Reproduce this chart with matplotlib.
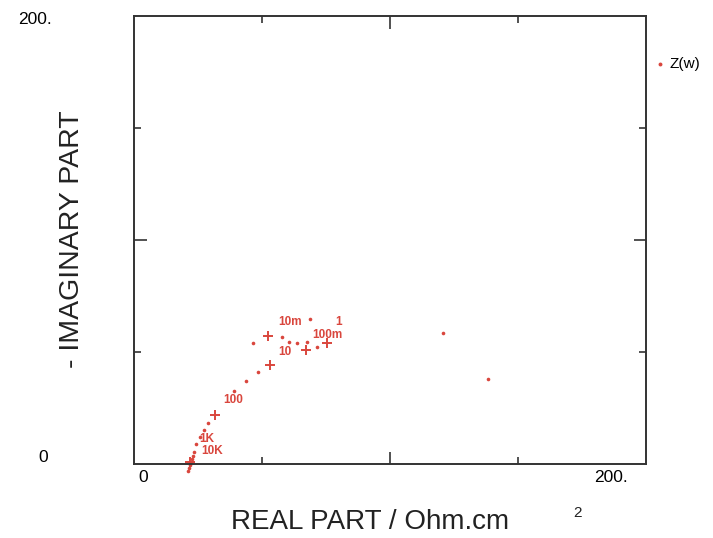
import matplotlib.pyplot as plt
from matplotlib.ticker import FixedLocator, NullFormatter

plt.rcParams['font.family'] = ['Liberation Sans', 'DejaVu Sans']

# ---- Data ----
# impedance points shown as small dots
dot_re = [23.4, 23.0, 22.7, 22.3, 21.9, 21.5, 21.1, 24.2, 25.8, 27.3, 28.9,
          39.1, 43.8, 48.4, 46.5, 57.8, 60.5, 63.7, 67.6, 68.8, 71.5, 120.7, 138.3]
dot_im = [5.4, 3.6, 2.2, 0.9, -0.4, -1.8, -3.1, 8.9, 12.1, 15.2, 18.3,
          32.6, 37.1, 41.1, 54.0, 56.7, 54.5, 54.0, 54.5, 64.7, 52.2, 58.5, 37.9]

# decade frequency points shown as "+"
dec_re = [21.9, 31.6, 53.1, 52.3, 67.2, 75.4]
dec_im = [0.9, 21.9, 44.2, 57.1, 50.9, 54.0]

# frequency labels
freq_labels = ["10K", "1K", "100", "10", "1", "100m", "10m"]
freq_re = [30.6, 28.5, 38.7, 59.0, 79.8, 75.4, 60.9]
freq_im = [5.6, 11.2, 28.6, 50.0, 63.2, 57.4, 63.4]

red = "#d9463d"

fig = plt.figure(figsize=(7.13, 5.38), dpi=100)
ax = fig.add_axes([0.1879, 0.1375, 0.7181, 0.8327])

ax.plot(dot_re, dot_im, linestyle="none", marker="o", markersize=2.6,
        color=red, markeredgewidth=0, clip_on=False)
ax.plot(dec_re, dec_im, linestyle="none", marker="+", markersize=7,
        color=red, markeredgewidth=1.4, clip_on=False)
for lab, x, y in zip(freq_labels, freq_re, freq_im):
    ax.text(x, y, lab, color=red, fontsize=8.5, ha="center", va="center",
            fontweight="bold")

ax.set_xlim(0, 200)
ax.set_ylim(0, 200)

# ticks: inward on all four sides, no numbers
ax.xaxis.set_major_locator(FixedLocator([100]))
ax.xaxis.set_minor_locator(FixedLocator([50, 150]))
ax.yaxis.set_major_locator(FixedLocator([100]))
ax.yaxis.set_minor_locator(FixedLocator([50, 150]))
ax.xaxis.set_major_formatter(NullFormatter())
ax.yaxis.set_major_formatter(NullFormatter())
ax.tick_params(which="both", direction="in", top=True, right=True,
               color="#333333", width=1.2)
ax.tick_params(which="major", length=9)
ax.tick_params(which="minor", length=5)
for s in ax.spines.values():
    s.set_linewidth(1.4)
    s.set_color("#333333")

# end labels
fig.text(143 / 713, 1 - 478 / 538, "0", fontsize=12.5, ha="center", va="center")
fig.text(628 / 713, 1 - 478 / 538, "200.", fontsize=12.5, ha="right", va="center")
fig.text(35 / 713, 1 - 20 / 538, "200.", fontsize=12.5, ha="center", va="center")
fig.text(43 / 713, 1 - 457 / 538, "0", fontsize=12.5, ha="center", va="center")

# axis titles
fig.text(370 / 713, 1 - 522 / 538, "REAL PART / Ohm.cm", fontsize=20,
         ha="center", va="center", color="#222222")
fig.text(577 / 713, 1 - 513 / 538, "2", fontsize=11, ha="center", va="center",
         color="#222222")
fig.text(72 / 713, 1 - 239 / 538, "- IMAGINARY PART", fontsize=20.5,
         rotation=90, ha="center", va="center", color="#222222")

# legend
fig.add_artist(plt.Line2D([660 / 713], [1 - 64 / 538], marker="o",
                          markersize=2.8, color=red, markeredgewidth=0,
                          linestyle="none"))
fig.text(670 / 713, 1 - 64 / 538, "Z(w)", fontsize=11, ha="left", va="center")

plt.savefig("out.png", dpi=100)
